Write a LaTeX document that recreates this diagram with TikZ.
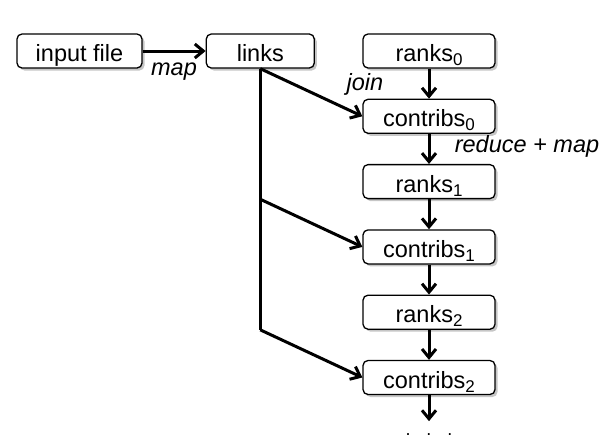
\documentclass[tikz,border=0pt]{standalone}
\usepackage{fontspec}
\setmainfont{Liberation Sans}
\usetikzlibrary{positioning,arrows.meta,shadows,calc}

\newcommand{\idx}[1]{\raisebox{-4pt}[0pt][0pt]{\fontsize{17}{17}\selectfont #1}}

\begin{document}
\begin{tikzpicture}[x=1pt,y=1pt,node distance=30pt and 63pt,
  font=\fontsize{23.5}{27}\selectfont,
  box/.style={draw,line width=1.3pt,rounded corners=5pt,fill=white,
    minimum height=34pt,inner sep=0pt,text height=21pt,text depth=0pt,
    drop shadow={shadow xshift=2.5pt,shadow yshift=-2.5pt,opacity=0.45}},
  flow/.style={line width=3pt,-{Straight Barb[length=8.5pt,width=14pt]}},
  lbl/.style={font=\fontsize{23.5}{27}\selectfont\itshape,inner sep=1pt}]
\useasboundingbox (0,0) rectangle (615,-445);
\node[box,minimum width=125pt] (input) at (79.5,-51) {input file};
\node[box,minimum width=108pt,right=of input] (links) {links};
\node[box,minimum width=132pt] (r0) at (429,-51) {ranks\idx{0}};
\node[box,minimum width=132pt,below=of r0] (c0) {contribs\idx{0}};
\node[box,minimum width=132pt,below=of c0] (r1) {ranks\idx{1}};
\node[box,minimum width=132pt,below=of r1] (c1) {contribs\idx{1}};
\node[box,minimum width=132pt,below=of c1] (r2) {ranks\idx{2}};
\node[box,minimum width=132pt,below=of r2] (c2) {contribs\idx{2}};
\coordinate[below=26pt of c2] (tail);
\node[anchor=base,font=\fontsize{18}{20}\selectfont] (dots) at ($(tail)+(0,-14)$) {.\hspace{16pt}.\hspace{16pt}.};
% links fan out to every contribs step
\coordinate (b1) at (links.south |- r1.south);
\coordinate (b2) at (links.south |- r2.south);
\draw[line width=3pt] (links.south) -- (b2);
\draw[flow] (links.south) -- (c0.west);
\draw[flow] (b1) -- (c1.west);
\draw[flow] (b2) -- (c2.west);
\draw[flow] (input) -- (links);
\draw[flow] (r0) -- (c0);
\draw[flow] (c0) -- (r1);
\draw[flow] (r1) -- (c1);
\draw[flow] (c1) -- (r2);
\draw[flow] (r2) -- (c2);
\draw[flow] (c2) -- (tail);
\node[lbl,anchor=base] (maplbl) at (174,-75) {map};
\node[lbl,anchor=base] (joinlbl) at (365,-90) {join};
\node[lbl,anchor=base] (redlbl) at (527,-152) {reduce + map};
\end{tikzpicture}
\end{document}
